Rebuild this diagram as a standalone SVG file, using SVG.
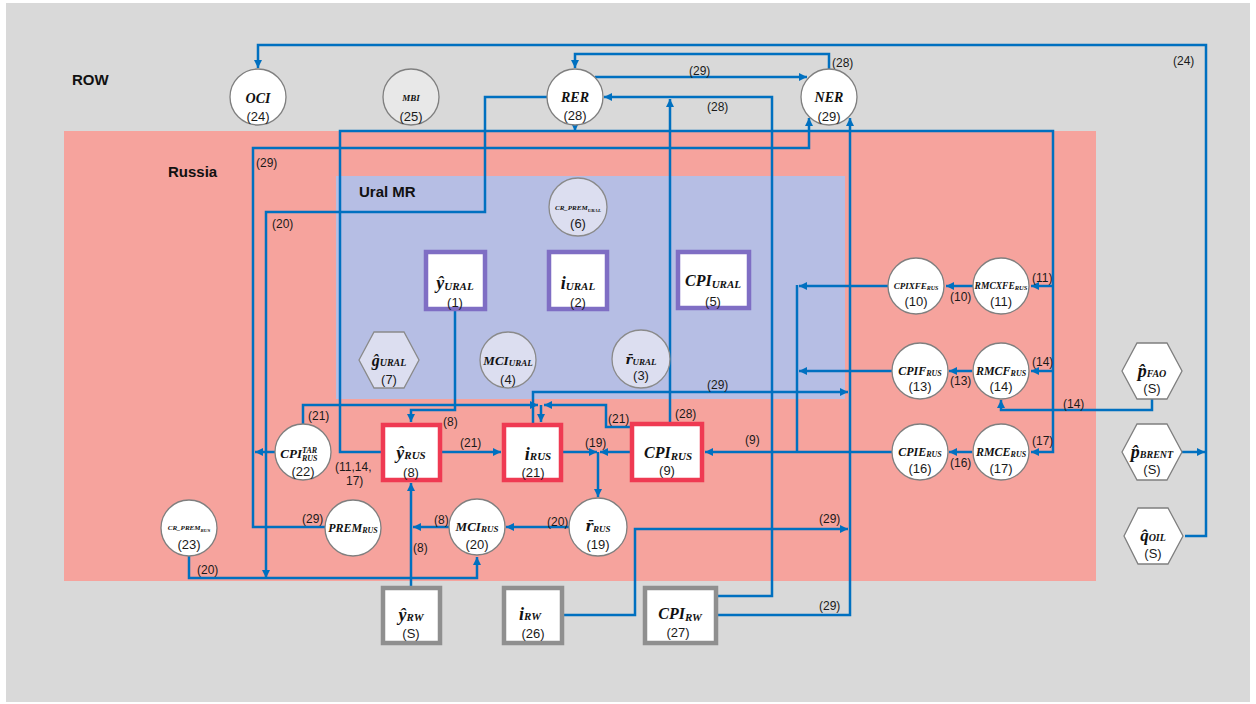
<svg xmlns="http://www.w3.org/2000/svg" width="1256" height="704" viewBox="0 0 1256 704">
<defs>
<marker id="ah" markerUnits="userSpaceOnUse" markerWidth="9" markerHeight="9" refX="8" refY="4" orient="auto"><path d="M0,0 L8,4 L0,8 z" fill="#0070c0"/></marker>
<style>
.ln{fill:none;stroke:#0070c0;stroke-width:2.5}
.ar{marker-end:url(#ah)}
.lbl{font-family:"Liberation Sans",Arial,sans-serif;font-size:12px;fill:#1a1a1a}
.num{font-family:"Liberation Sans",Arial,sans-serif;font-size:13px;fill:#1a1a1a;text-anchor:middle}
.m{font-family:"Liberation Serif","DejaVu Serif",serif;font-weight:bold;font-style:italic;fill:#111;text-anchor:middle}
.dv{font-family:"DejaVu Serif",serif}
.hdr{font-family:"Liberation Sans",Arial,sans-serif;font-size:15px;font-weight:bold;fill:#111}
.cw{fill:#fff;stroke:#7f7f7f;stroke-width:1.3}
.cl{fill:#dcdef0;stroke:#8a8a8a;stroke-width:1.3}
.cg{fill:#e8e8e8;stroke:#7f7f7f;stroke-width:1.3}
.bp{fill:#fff;stroke:#7f6ec4;stroke-width:4.5}
.br{fill:#fff;stroke:#ef3a52;stroke-width:4.5}
.bg{fill:#fff;stroke:#8f8f8f;stroke-width:4.5}
</style>
</defs>
<rect x="0" y="0" width="1256" height="704" fill="#fff"/>
<rect x="6" y="3" width="1244" height="699" fill="#d9d9d9"/>
<rect x="64" y="131" width="1032" height="450" fill="#f6a39d"/>
<rect x="336" y="176" width="509" height="223" fill="#b6bee4"/>
<text class="hdr" x="72" y="85">ROW</text>
<text class="hdr" x="168" y="177">Russia</text>
<text class="hdr" x="359" y="197">Ural MR</text>

<g id="connectors">
<path class="ln ar" d="M1185,536 H1206 V45 H258 V68"/>
<path class="ln ar" d="M1182,452 H1205"/>
<path class="ln ar" d="M829,69 V54 H575 V68"/>
<path class="ln ar" d="M595,77 H807"/>
<path class="ln ar" d="M718,596 H772 V97 H604"/>
<path class="ln ar" d="M670,422 V99"/>
<path class="ln ar" d="M547,97 H485 V212 H266 V578"/>
<path class="ln ar" d="M189,556 V578 H477 V557"/>
<path class="ln ar" d="M325,527 H253 V148 H809 V118"/>
<path class="ln ar" d="M275,452 H255"/>
<path class="ln ar" d="M381,452 H340 V131 H1053 V452 H1031"/>
<path class="ln ar" d="M1053,286 H1031"/>
<path class="ln ar" d="M1053,371 H1031"/>
<path class="ln ar" d="M575,125 V131"/>
<path class="ln ar" d="M455,311 V410 H411 V422"/>
<path class="ln ar" d="M442,452 H501"/>
<path class="ln ar" d="M303,424 V405 H538"/>
<path class="ln ar" d="M630,427 H606 V405 H544"/>
<path class="ln ar" d="M541,405 V422"/>
<path class="ln ar" d="M533,423 V392 H848"/>
<path class="ln ar" d="M718,615 H850 V118"/>
<path class="ln ar" d="M564,615 H635 V529 H848"/>
<path class="ln ar" d="M563,452 H597"/>
<path class="ln ar" d="M630,452 H600"/>
<path class="ln ar" d="M598,452 V497"/>
<path class="ln ar" d="M569,527 H506"/>
<path class="ln ar" d="M449,527 H413"/>
<path class="ln ar" d="M411,586 V483"/>
<path class="ln ar" d="M888,286 H799"/>
<path class="ln ar" d="M892,371 H799"/>
<path class="ln ar" d="M892,452 H705"/>
<path class="ln" d="M797,285 V452"/>
<path class="ln ar" d="M973,286 H946"/>
<path class="ln ar" d="M972,371 H949"/>
<path class="ln ar" d="M972,452 H949"/>
<path class="ln ar" d="M1152,399 V410 H1001 V400"/>
<text class="lbl" x="1173" y="65">(24)</text>
<text class="lbl" x="832" y="67">(28)</text>
<text class="lbl" x="689" y="75">(29)</text>
<text class="lbl" x="707" y="111">(28)</text>
<text class="lbl" x="256" y="167">(29)</text>
<text class="lbl" x="272" y="228">(20)</text>
<text class="lbl" x="308" y="420">(21)</text>
<text class="lbl" x="443" y="426">(8)</text>
<text class="lbl" x="460" y="447">(21)</text>
<text class="lbl" x="585" y="447">(19)</text>
<text class="lbl" x="608" y="423">(21)</text>
<text class="lbl" x="675" y="418">(28)</text>
<text class="lbl" x="707" y="389">(29)</text>
<text class="lbl" x="745" y="444">(9)</text>
<text class="lbl" x="335" y="471">(11,14,</text>
<text class="lbl" x="346" y="485">17)</text>
<text class="lbl" x="302" y="523">(29)</text>
<text class="lbl" x="434" y="524">(8)</text>
<text class="lbl" x="413" y="552">(8)</text>
<text class="lbl" x="547" y="526">(20)</text>
<text class="lbl" x="197" y="574">(20)</text>
<text class="lbl" x="819" y="523">(29)</text>
<text class="lbl" x="819" y="610">(29)</text>
<text class="lbl" x="1032" y="282">(11)</text>
<text class="lbl" x="950" y="301">(10)</text>
<text class="lbl" x="1032" y="366">(14)</text>
<text class="lbl" x="950" y="385">(13)</text>
<text class="lbl" x="1032" y="445">(17)</text>
<text class="lbl" x="950" y="467">(16)</text>
<text class="lbl" x="1063" y="408">(14)</text>
</g>

<g id="OCI"><circle class="cw" cx="258" cy="97" r="28"/><text class="m" x="258" y="103" font-size="14">OCI</text><text class="num" x="258" y="121">(24)</text></g>
<g id="MBI"><circle class="cg" cx="411" cy="97" r="28"/><text class="m" x="411" y="101" font-size="9">MBI</text><text class="num" x="411" y="121">(25)</text></g>
<g id="RER"><circle class="cw" cx="575" cy="97" r="28"/><text class="m" x="575" y="102" font-size="14">RER</text><text class="num" x="575" y="120">(28)</text></g>
<g id="NER"><circle class="cw" cx="829" cy="97" r="28"/><text class="m" x="829" y="102" font-size="14">NER</text><text class="num" x="829" y="121">(29)</text></g>

<g id="CR_PREM_URAL"><circle class="cl" cx="578" cy="207" r="29"/><text class="m" x="578" y="210" font-size="7">CR_PREM<tspan font-size="5" dy="1.5">URAL</tspan></text><text class="num" x="578" y="228">(6)</text></g>
<g id="y_URAL"><rect class="bp" x="426" y="252" width="59" height="57"/><text class="m" x="455" y="289" font-size="18">ŷ<tspan font-size="11" dy="1">URAL</tspan></text><text class="num" x="455" y="307">(1)</text></g>
<g id="i_URAL"><rect class="bp" x="549" y="252" width="58" height="57"/><text class="m" x="578" y="289" font-size="18">i<tspan font-size="11" dy="1">URAL</tspan></text><text class="num" x="578" y="307">(2)</text></g>
<g id="CPI_URAL"><rect class="bp" x="678" y="252" width="71" height="56"/><text class="m" x="713" y="286" font-size="16">CPI<tspan font-size="11" dy="2">URAL</tspan></text><text class="num" x="713" y="306">(5)</text></g>
<g id="g_URAL"><polygon class="cl" points="359,360 374,332 404,332 419,360 404,388 374,388"/><text class="m" x="389" y="366" font-size="16">ĝ<tspan font-size="10" dy="0">URAL</tspan></text><text class="num" x="389" y="384">(7)</text></g>
<g id="MCI_URAL"><circle class="cl" cx="508" cy="360" r="28"/><text class="m" x="508" y="365" font-size="13">MCI<tspan font-size="9" dy="1">URAL</tspan></text><text class="num" x="508" y="384">(4)</text></g>
<g id="r_URAL"><circle class="cl" cx="641" cy="359" r="29"/><text class="m" x="641" y="364" font-size="13"><tspan class="dv">r̄</tspan><tspan font-size="9" dy="1">URAL</tspan></text><text class="num" x="641" y="380">(3)</text></g>

<g id="CPI_TAR_RUS"><circle class="cw" cx="303" cy="452" r="28"/><text class="m" x="302" y="458" font-size="13" style="text-anchor:end">CPI</text><text class="m" x="302" y="453" font-size="8" style="text-anchor:start">TAR</text><text class="m" x="302" y="461" font-size="8" style="text-anchor:start">RUS</text><text class="num" x="303" y="476">(22)</text></g>
<g id="y_RUS"><rect class="br" x="383" y="425" width="57" height="55"/><text class="m" x="411" y="459" font-size="18">ŷ<tspan font-size="11" dy="0">RUS</tspan></text><text class="num" x="411" y="477">(8)</text></g>
<g id="i_RUS"><rect class="br" x="504" y="425" width="57" height="55"/><text class="m" x="538" y="460" font-size="18">i<tspan font-size="11" dy="0">RUS</tspan></text><text class="num" x="533" y="477">(21)</text></g>
<g id="CPI_RUS"><rect class="br" x="632" y="424" width="70" height="56"/><text class="m" x="668" y="458" font-size="16">CPI<tspan font-size="11" dy="2">RUS</tspan></text><text class="num" x="667" y="475">(9)</text></g>

<g id="CPIXFE_RUS"><circle class="cw" cx="916" cy="286" r="28"/><text class="m" x="916" y="289" font-size="9">CPIXFE<tspan font-size="6" dy="1">RUS</tspan></text><text class="num" x="916" y="306">(10)</text></g>
<g id="RMCXFE_RUS"><circle class="cw" cx="1001" cy="286" r="28"/><text class="m" x="1001" y="289" font-size="9.5">RMCXFE<tspan font-size="6.5" dy="1">RUS</tspan></text><text class="num" x="1001" y="306">(11)</text></g>
<g id="CPIF_RUS"><circle class="cw" cx="920" cy="371" r="28"/><text class="m" x="920" y="375" font-size="12">CPIF<tspan font-size="8" dy="1">RUS</tspan></text><text class="num" x="920" y="391">(13)</text></g>
<g id="RMCF_RUS"><circle class="cw" cx="1001" cy="371" r="28"/><text class="m" x="1001" y="375" font-size="12">RMCF<tspan font-size="8" dy="1">RUS</tspan></text><text class="num" x="1001" y="391">(14)</text></g>
<g id="CPIE_RUS"><circle class="cw" cx="920" cy="452" r="28"/><text class="m" x="920" y="456" font-size="12">CPIE<tspan font-size="8" dy="1">RUS</tspan></text><text class="num" x="920" y="473">(16)</text></g>
<g id="RMCE_RUS"><circle class="cw" cx="1001" cy="452" r="28"/><text class="m" x="1001" y="456" font-size="12">RMCE<tspan font-size="8" dy="1">RUS</tspan></text><text class="num" x="1001" y="473">(17)</text></g>

<g id="p_FAO"><polygon class="cw" points="1122,371 1137,343 1167,343 1182,371 1167,399 1137,399"/><text class="m" x="1152" y="377" font-size="18">p̂<tspan font-size="10" dy="0">FAO</tspan></text><text class="num" x="1152" y="393">(S)</text></g>
<g id="p_BRENT"><polygon class="cw" points="1122,452 1137,424 1167,424 1182,452 1167,480 1137,480"/><text class="m" x="1152" y="458" font-size="18">p̂<tspan font-size="10" dy="0">BRENT</tspan></text><text class="num" x="1152" y="474">(S)</text></g>
<g id="q_OIL"><polygon class="cw" points="1124,536 1138,508 1168,508 1183,536 1168,564 1138,564"/><text class="m" x="1153" y="541" font-size="17">q̂<tspan font-size="10" dy="0">OIL</tspan></text><text class="num" x="1153" y="558">(S)</text></g>

<g id="CR_PREM_RUS"><circle class="cw" cx="189" cy="528" r="28"/><text class="m" x="189" y="530" font-size="7">CR_PREM<tspan font-size="5" dy="1.5">RUS</tspan></text><text class="num" x="189" y="549">(23)</text></g>
<g id="PREM_RUS"><circle class="cw" cx="353" cy="528" r="28"/><text class="m" x="353" y="532" font-size="12">PREM<tspan font-size="8" dy="1">RUS</tspan></text></g>
<g id="MCI_RUS"><circle class="cw" cx="477" cy="527" r="28"/><text class="m" x="477" y="531" font-size="13">MCI<tspan font-size="9" dy="1">RUS</tspan></text><text class="num" x="477" y="549">(20)</text></g>
<g id="r_RUS"><circle class="cw" cx="598" cy="527" r="29"/><text class="m" x="598" y="531" font-size="14"><tspan class="dv">r̄</tspan><tspan font-size="9" dy="1">RUS</tspan></text><text class="num" x="598" y="549">(19)</text></g>

<g id="y_RW"><rect class="bg" x="383" y="588" width="57" height="55"/><text class="m" x="411" y="621" font-size="18">ŷ<tspan font-size="11" dy="0">RW</tspan></text><text class="num" x="411" y="638">(S)</text></g>
<g id="i_RW"><rect class="bg" x="504" y="588" width="58" height="55"/><text class="m" x="530" y="620" font-size="18">i<tspan font-size="11" dy="0">RW</tspan></text><text class="num" x="533" y="638">(26)</text></g>
<g id="CPI_RW"><rect class="bg" x="645" y="588" width="71" height="55"/><text class="m" x="680" y="619" font-size="16">CPI<tspan font-size="11" dy="2">RW</tspan></text><text class="num" x="678" y="637">(27)</text></g>
</svg>
